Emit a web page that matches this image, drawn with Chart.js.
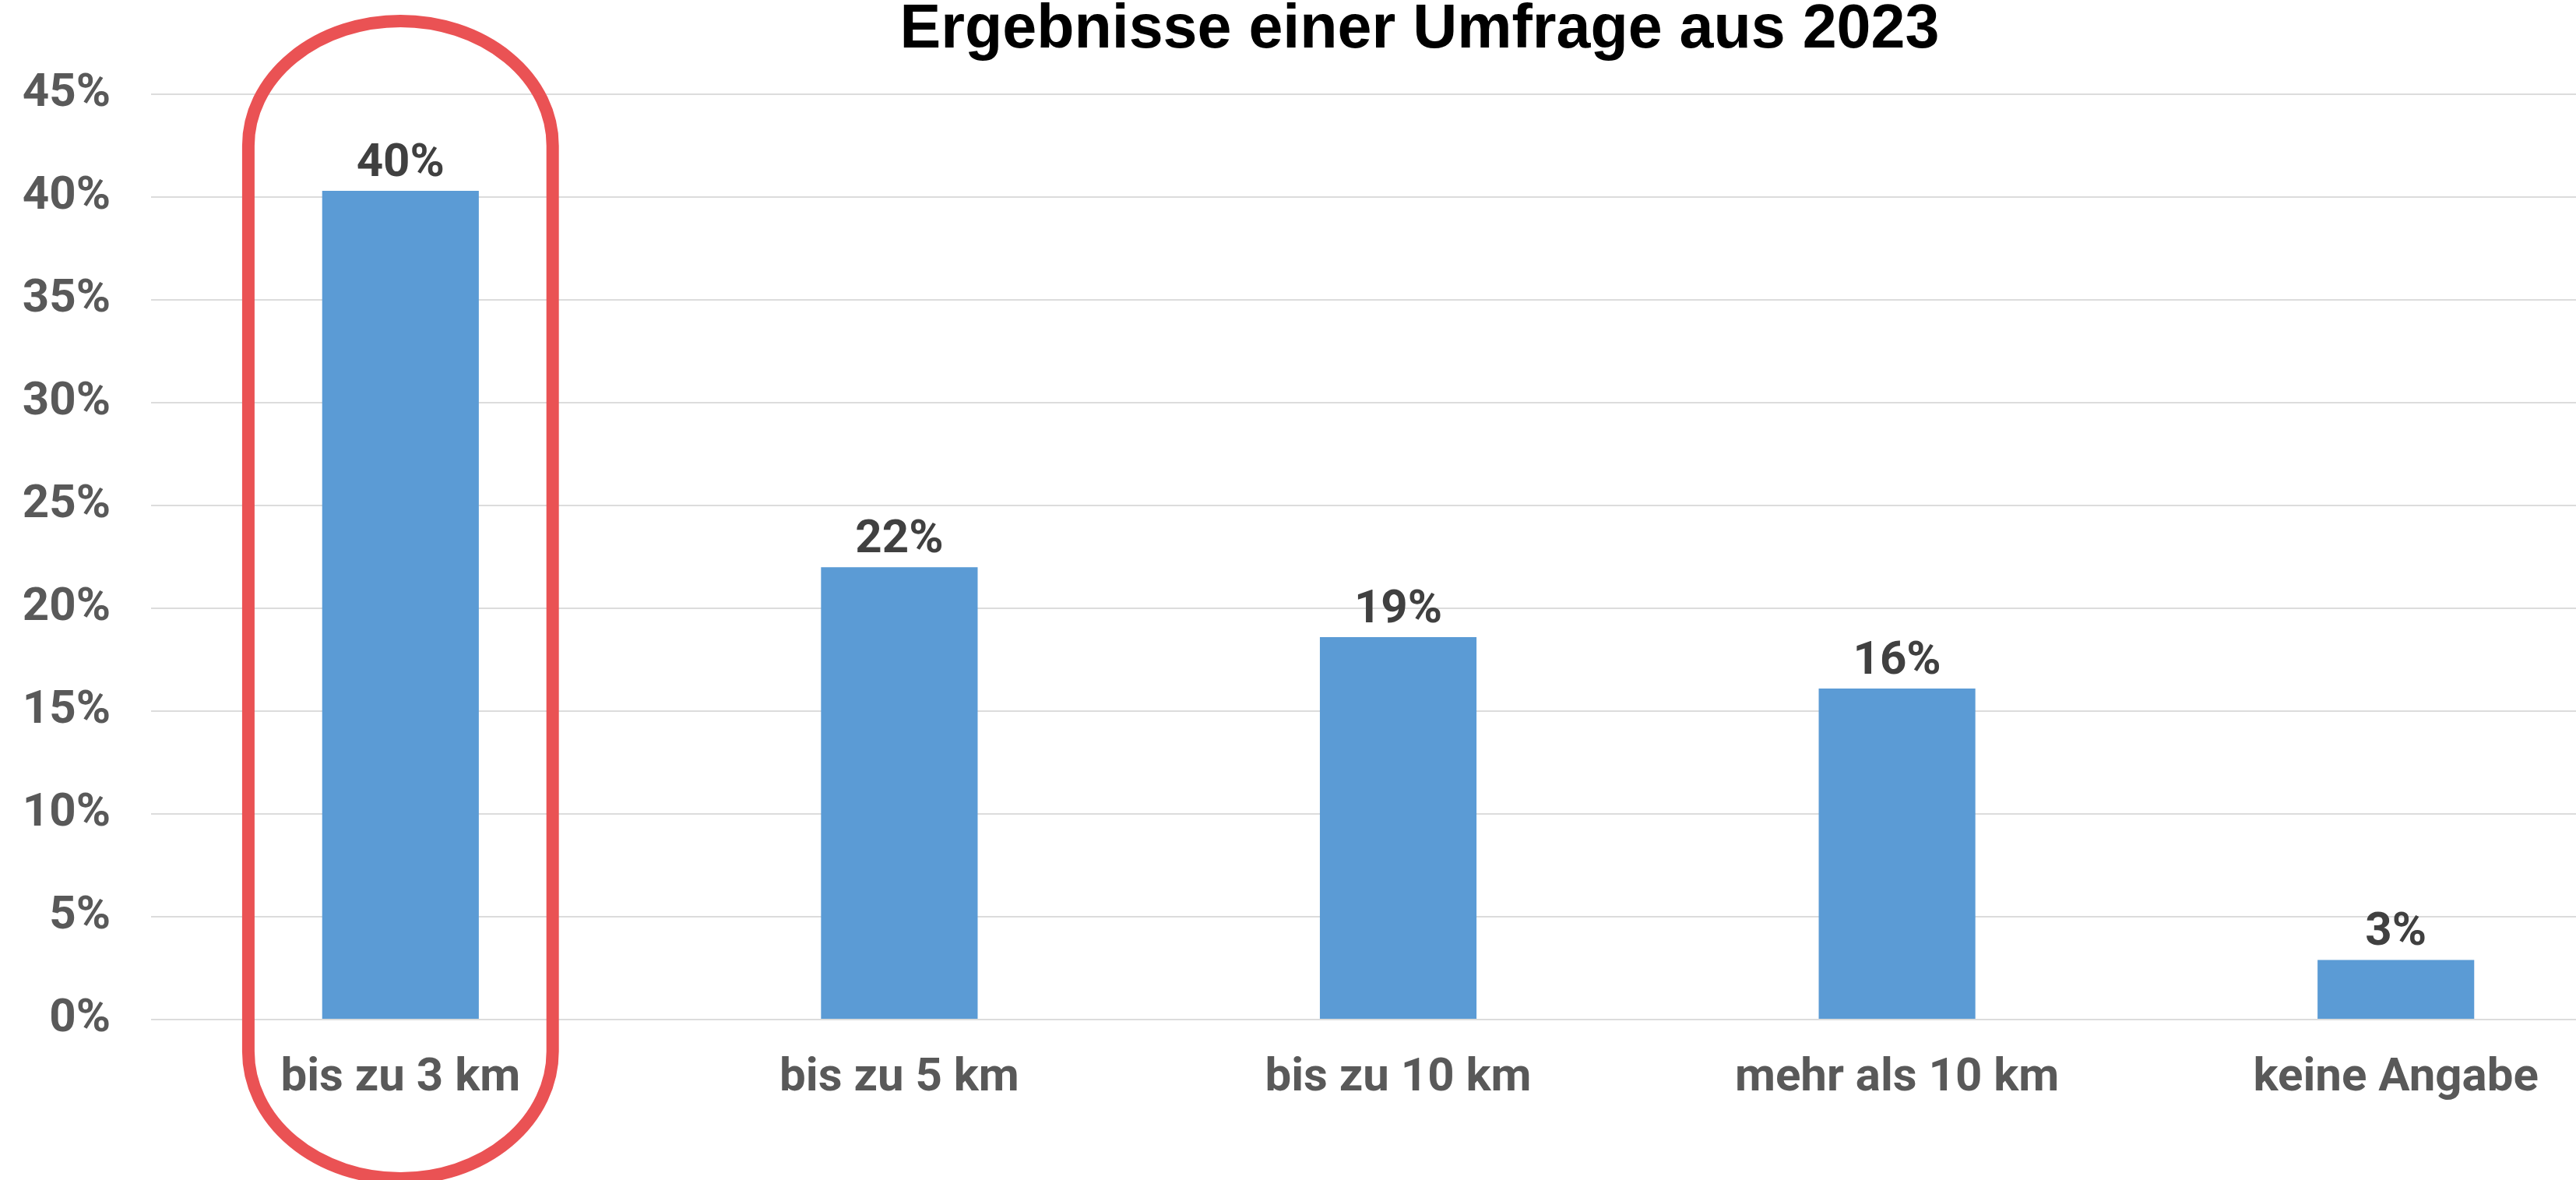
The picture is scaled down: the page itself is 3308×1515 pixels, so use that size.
<!DOCTYPE html>
<html lang="de">
<head>
<meta charset="utf-8">
<title>Ergebnisse einer Umfrage aus 2023</title>
<script src="https://cdn.jsdelivr.net/npm/chart.js@4.4.1/dist/chart.umd.min.js"></script>
<style>
  html, body { margin: 0; padding: 0; background: #fff; overflow: hidden; }
  .chart-wrap { position: relative; width: 3646px; height: 1515px; }
</style>
</head>
<body>
<div class="chart-wrap">
  <canvas id="surveyChart"></canvas>
</div>
<script>
// Survey results - bar chart with highlighted first category

const categories = ["bis zu 3 km", "bis zu 5 km", "bis zu 10 km", "mehr als 10 km", "keine Angabe"];
const shares = [40.3, 22.0, 18.6, 16.1, 2.9];
const yTicks = [0, 5, 10, 15, 20, 25, 30, 35, 40, 45];

const labelFont = { family: "Roboto, 'Liberation Sans', sans-serif", size: 60, weight: "bold" };

// value labels above the bars
const barLabels = {
  id: "barLabels",
  afterDatasetsDraw(chart) {
    const { ctx } = chart;
    const meta = chart.getDatasetMeta(0);
    ctx.save();
    ctx.font = "bold 60px Roboto, 'Liberation Sans', sans-serif";
    ctx.fillStyle = "#404040";
    ctx.textAlign = "center";
    ctx.textBaseline = "alphabetic";
    meta.data.forEach((bar, i) => {
      ctx.fillText(Math.round(shares[i]) + "%", bar.x, bar.y - 19);
    });
    ctx.restore();
  },
};

// red rounded frame around the first category
const highlight = {
  id: "highlight",
  afterDraw(chart) {
    const { ctx, chartArea } = chart;
    const x = chart.scales.x;
    const cx = x.getPixelForValue(0);
    const rx = (x.getPixelForValue(1) - cx) * 0.305;
    const top = chartArea.top - 94;
    const bottom = chart.height - 2;
    const ryTop = 160;
    const ryBottom = 163;
    ctx.save();
    ctx.strokeStyle = "#ea5254";
    ctx.lineWidth = 16;
    ctx.beginPath();
    ctx.ellipse(cx, top + ryTop, rx, ryTop, 0, Math.PI, 2 * Math.PI);
    ctx.lineTo(cx + rx, bottom - ryBottom);
    ctx.ellipse(cx, bottom - ryBottom, rx, ryBottom, 0, 0, Math.PI);
    ctx.closePath();
    ctx.stroke();
    ctx.restore();
  },
};

document.addEventListener("DOMContentLoaded", () => {
  const ctx = document.getElementById("surveyChart");

  new Chart(ctx, {
    type: "bar",
    data: {
      labels: categories,
      datasets: [
        {
          label: "Anteil",
          data: shares,
          backgroundColor: "#5b9bd5",
          borderWidth: 0,
          categoryPercentage: 1,
          barPercentage: 0.314,
        },
      ],
    },
    options: {
      responsive: true,
      maintainAspectRatio: false,
      animation: false,
      layout: { padding: 0 },
      plugins: {
        legend: { display: false },
        tooltip: { enabled: false },
        title: {
          display: true,
          text: "Ergebnisse einer Umfrage aus 2023",
          color: "#000",
          font: { family: "'Liberation Sans', Arial, sans-serif", size: 79, weight: "bold", lineHeight: 1 },
          padding: { top: 0, bottom: 42 },
        },
      },
      scales: {
        y: {
          min: 0,
          max: 45,
          afterBuildTicks: (scale) => {
            scale.ticks = yTicks.map((v) => ({ value: v }));
          },
          afterFit: (scale) => {
            scale.width = 194;
          },
          grid: { color: "#dcdcdc", lineWidth: 2, drawTicks: false },
          border: { display: false },
          ticks: {
            color: "#595959",
            font: labelFont,
            padding: 52,
            callback: (value) => value + "%",
          },
        },
        // empty right-hand axis, only keeps the cropped space on the right
        yRight: {
          position: "right",
          afterFit: (scale) => {
            scale.width = 249;
          },
          grid: { display: false, drawTicks: false },
          border: { display: false },
          ticks: { display: false },
        },
        x: {
          afterFit: (scale) => {
            scale.height = 206;
          },
          grid: { display: false, drawTicks: false },
          border: { display: false },
          ticks: {
            color: "#595959",
            font: labelFont,
            padding: 40,
            maxRotation: 0,
          },
        },
      },
    },
    plugins: [barLabels, highlight],
  });
});
</script>
</body>
</html>
